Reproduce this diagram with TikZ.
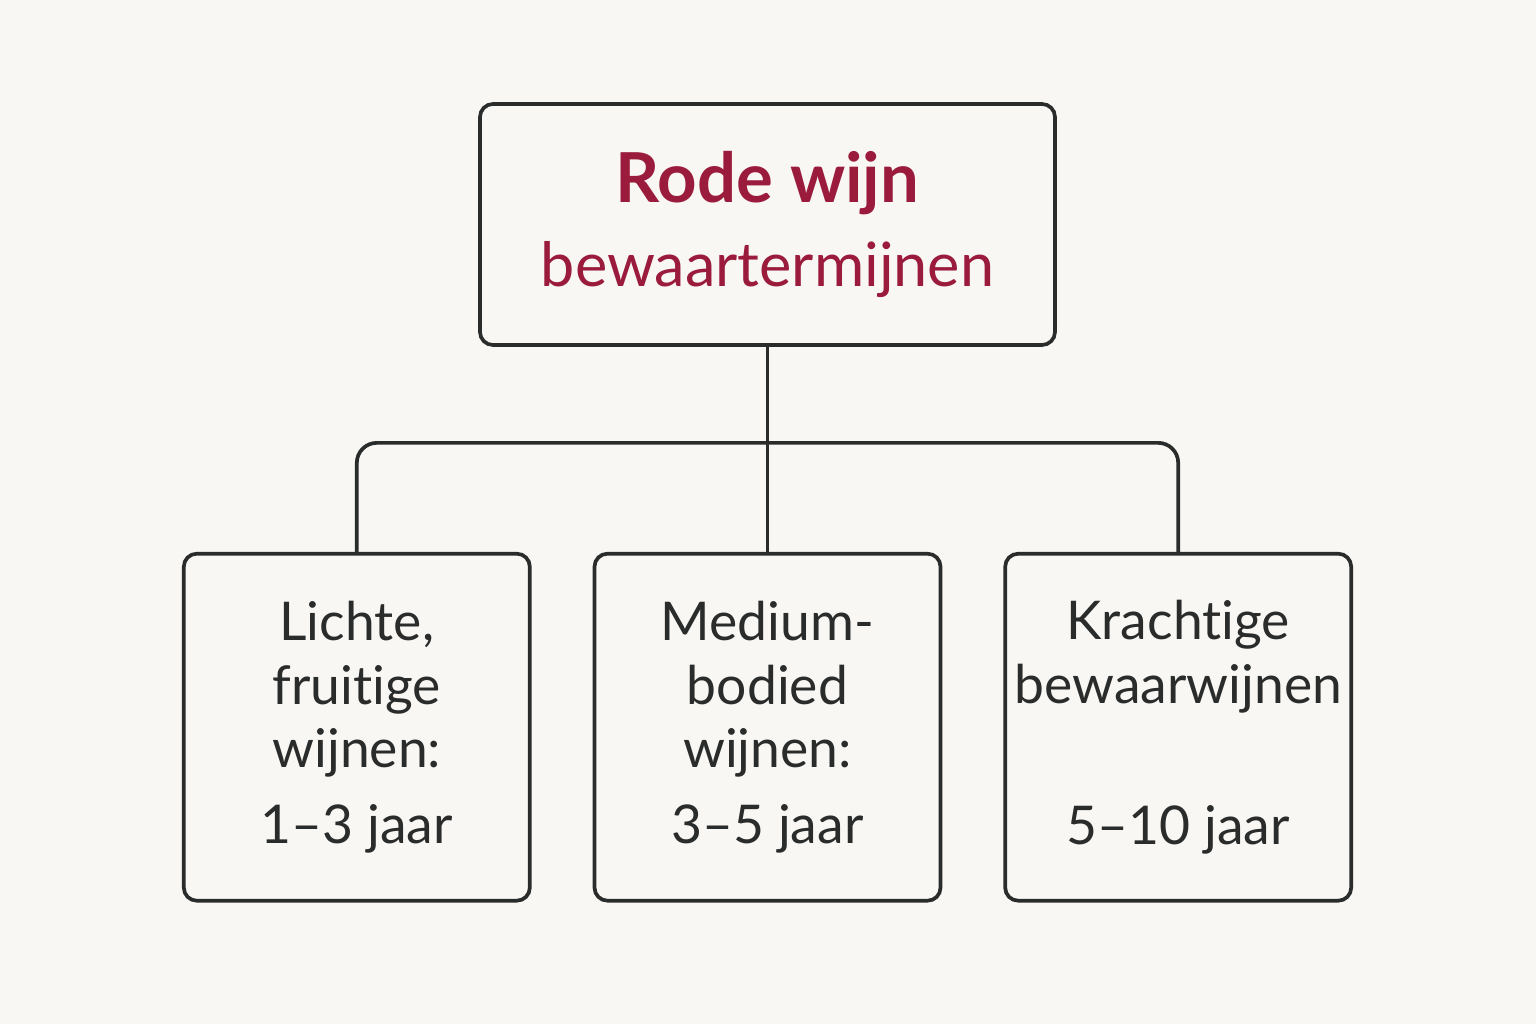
\documentclass[tikz,border=0pt]{standalone}
\usepackage{fontspec}
\setmainfont{Lato}[Ligatures=NoCommon]
\usepackage{xcolor}
\usetikzlibrary{positioning}
\definecolor{wijnrood}{HTML}{9A1B3C}
\definecolor{inkt}{HTML}{2A2C2B}
\definecolor{papier}{HTML}{F8F7F4}

\begin{document}
\begin{tikzpicture}[node distance=6.1mm,
          box/.style={draw=inkt,line width=1.05pt,rounded corners=1.3mm,fill=papier,
            minimum width=34.6mm,minimum height=34.7mm,align=center,text=inkt,
            inner xsep=0.5mm,font=\fontsize{15.2}{18.2}\selectfont}]
          \fill[papier] (0,0) rectangle (15.36,10.24);
          \useasboundingbox (0,0) rectangle (15.36,10.24);
          \node[box,minimum width=57.5mm,minimum height=24.1mm,text=wijnrood,
            font=\fontsize{17.4}{22}\selectfont](top) at (7.675,7.995)
            {{\fontsize{19.6}{22}\selectfont\bfseries Rode wijn}\\[0.6mm] bewaartermijnen};
          \node[box,below=20.5mm of top](mid){Medium-\\ bodied\\ wijnen:\\[1.2mm] 3--5 jaar};
          \node[box,left=of mid](lft){Lichte,\\ fruitige\\ wijnen:\\[1.2mm] 1--3 jaar};
          \node[box,right=of mid](rgt){Krachtige\\ bewaarwijnen\\[7.8mm] 5--10 jaar};
          \coordinate[below=9.6mm of top](bus);
          \draw[inkt,line width=1.05pt](top.south)--(mid.north);
          \draw[inkt,line width=1.05pt,rounded corners=2mm](lft.north)|-(bus)-|(rgt.north);
        \end{tikzpicture}
\end{document}
